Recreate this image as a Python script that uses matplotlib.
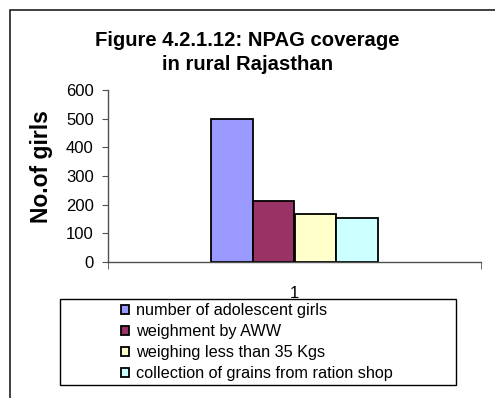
import numpy as np
from matplotlib import pyplot as plt
from matplotlib.patches import Rectangle

plt.rcParams['font.family'] = ['Liberation Sans', 'DejaVu Sans']

W, H = 495, 398

series = ['number of adolescent girls', 'weighment by AWW',
          'weighing less than 35 Kgs', 'collection of grains from ration shop']
values = [500, 213, 167, 153]
colors = ['#9999FF', '#993366', '#FFFFCC', '#CCFFFF']
category = [1]

fig = plt.figure(figsize=(W / 100, H / 100), dpi=100)

# outer chart border (runs off the right and bottom edge)
fig.patches.append(Rectangle((10 / W, -0.2), 1.2, 1.2 - 10 / H,
                             transform=fig.transFigure, fill=False,
                             edgecolor='#202020', linewidth=1.2))

ax = fig.add_axes([108 / W, 1 - 262 / H, (481 - 108) / W, (262 - 90) / H])

w = 0.1115
for i, (name, v, c) in enumerate(zip(series, values, colors)):
    ax.bar(category[0] + (i - 1.5) * w, v, width=w, color=c,
           edgecolor='black', linewidth=1.3, label=name)

ax.set_xlim(0.5, 1.5)
ax.set_ylim(0, 600)
ax.set_yticks(np.arange(0, 601, 100))
ax.set_xticks(category)
ax.set_xticks([0.5, 1.5], minor=True)
ax.tick_params(axis='x', which='major', length=0, pad=17, labelsize=12)
ax.tick_params(axis='x', which='minor', length=5, direction='out',
               color='#505050')
ax.tick_params(axis='y', length=4.3, pad=6, labelsize=12, color='#505050')

for s in ['top', 'right']:
    ax.spines[s].set_visible(False)
for s in ['left', 'bottom']:
    ax.spines[s].set_color('#505050')
    ax.spines[s].set_linewidth(1)

ax.set_ylabel('No.of girls', fontsize=16.5, fontweight='bold')
ax.yaxis.set_label_coords((53 - 108) / 373, (262 - 167) / 172)

fig.text(0.5, 1 - 70 / H, 'Figure 4.2.1.12: NPAG coverage\nin rural Rajasthan',
         ha='center', va='baseline', fontsize=14.6, fontweight='bold',
         linespacing=1.35)

# legend box drawn separately so the entries can sit off to the right
fig.patches.append(Rectangle((60 / W, 1 - 385 / H), (456 - 60) / W, (385 - 299) / H,
                             transform=fig.transFigure, fill=False,
                             edgecolor='black', linewidth=1))
fig.legend(loc='upper left', bbox_to_anchor=(121 / W, 1 - 303 / H),
           frameon=False, fontsize=11.7, borderpad=0, borderaxespad=0,
           handlelength=0.5, handleheight=0.5, handletextpad=0.45,
           labelspacing=0.37)

plt.savefig('out.png', dpi=100)
